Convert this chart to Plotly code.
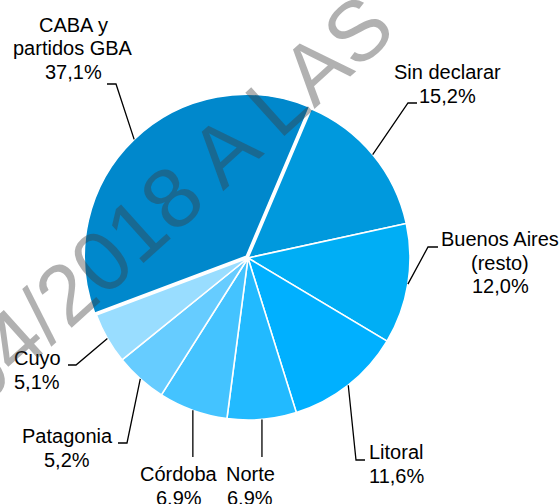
import math
import plotly.graph_objects as go

# ---- data ----
categories = ["CABA y partidos GBA", "Sin declarar", "Buenos Aires (resto)", "Litoral",
              "Norte", "Córdoba", "Patagonia", "Cuyo"]
values = [37.1, 15.2, 12.0, 11.6, 6.9, 6.9, 5.2, 5.1]
label_names = [["CABA y", "partidos GBA"], ["Sin declarar"], ["Buenos Aires", "(resto)"], ["Litoral"],
               ["Norte"], ["Córdoba"], ["Patagonia"], ["Cuyo"]]
colors = ["#0088CC", "#0099DD", "#00AEF5", "#00B0FF", "#22BAFF", "#44C3FF", "#66CCFF", "#99DDFF"]
watermark = "04/2018 A LAS"

# ---- layout constants (pixels) ----
W, H = 560, 504
CX, CY, R = 248, 258, 162
PULL = 0.015
ROT = -110.6
pulls = [PULL] + [0] * (len(values) - 1)
FONT = "Liberation Sans, Arial, sans-serif"
FS = 20
LS = 23.5

# label placement: (elbow point or None, line end, (x, centre of first line), xanchor)
label_layout = [
    ((116, 84), (107, 84), (73, 25), "center"),
    ((408, 103), (417, 103), (447, 72), "center"),
    ((428, 247), (438, 247), (500, 239), "center"),
    ((356, 460), (365, 460), (368, 452), "left"),
    (None, ("v", 457), (250, 474), "center"),
    (None, ("v", 457), (179, 474), "center"),
    ((127, 443), (118, 443), (67, 436), "center"),
    ((76, 365), (68, 365), (37, 358), "center"),
]


def px(x):
    return x / W


def py(y):
    return 1 - y / H


box = R * (2 + 2 * PULL)
domain = dict(x=[px(CX - box / 2), px(CX + box / 2)],
              y=[py(CY + box / 2), py(CY - box / 2)])

fig = go.Figure(go.Pie(
    labels=categories, values=values, sort=False, direction="clockwise",
    rotation=ROT, pull=pulls, textinfo="none", hoverinfo="label+percent",
    marker=dict(colors=colors, line=dict(color="white", width=1.6)),
    domain=domain, showlegend=False,
))

total = sum(values)
cum = 0.0
shapes = []
annotations = []
for i, v in enumerate(values):
    mid = ROT + (cum + v / 2) / total * 360
    cum += v
    a = math.radians(mid)
    off = pulls[i] * R
    sx = CX + (R + off) * math.sin(a)
    sy = CY - (R + off) * math.cos(a)
    elbow, end, lab, anchor = label_layout[i]
    pts = [(sx, sy)]
    if elbow is not None:
        pts.append(elbow)
        pts.append(end)
    else:
        pts.append((sx, end[1]))
    path = "M " + " L ".join(f"{px(x):.5f},{py(y):.5f}" for x, y in pts)
    shapes.append(dict(type="path", path=path, xref="paper", yref="paper",
                       line=dict(color="black", width=1.3)))
    pct = f"{v:.1f}".replace(".", ",") + "%"
    lines = label_names[i] + [pct]
    for k, line in enumerate(lines):
        annotations.append(dict(
            x=px(lab[0]), y=py(lab[1] + k * LS), xref="paper", yref="paper",
            text=line, showarrow=False, xanchor=anchor, yanchor="middle",
            borderpad=0, font=dict(family=FONT, size=FS, color="black"),
        ))

annotations.append(dict(
    x=px(170), y=py(200), xref="paper", yref="paper", text=watermark,
    showarrow=False, textangle=-42, xanchor="center", yanchor="middle",
    font=dict(family=FONT, size=85, color="rgba(60,60,60,0.4)"),
))

fig.update_layout(
    width=W, height=H, margin=dict(l=0, r=0, t=0, b=0),
    paper_bgcolor="white", plot_bgcolor="white",
    shapes=shapes, annotations=annotations,
)

fig.write_html("out.html", config={"displayModeBar": False},
               post_script="document.body.style.margin='0';document.body.style.overflow='hidden';")
